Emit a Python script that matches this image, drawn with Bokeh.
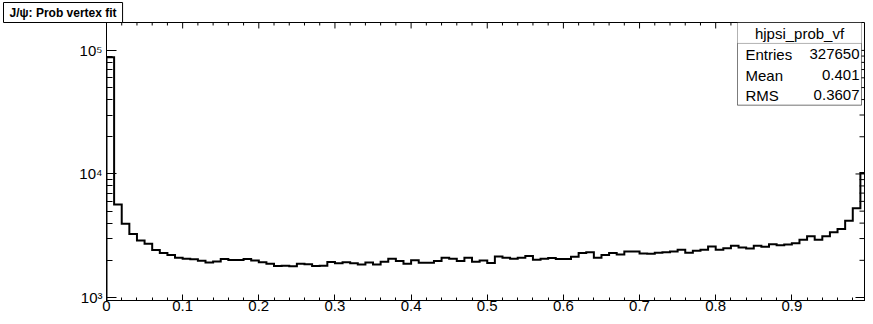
from bokeh.plotting import figure
from bokeh.models import FixedTicker, Label, BoxAnnotation, Range1d
from bokeh.embed import file_html
from bokeh.resources import INLINE

# ---------------- data ----------------
counts = [
    88000, 5650, 3950, 3270, 2890, 2720, 2420, 2290, 2210, 2100,
    2060, 2040, 1980, 1920, 1960, 2050, 2010, 2010, 2050, 1990,
    1930, 1880, 1800, 1810, 1790, 1880, 1860, 1800, 1810, 1940,
    1890, 1930, 1890, 1850, 1920, 1850, 1950, 2060, 1975, 1880,
    2000, 1915, 1915, 1975, 2100, 2060, 1975, 2100, 1950, 1990,
    1905, 2150, 2100, 2060, 2100, 2170, 2025, 2060, 2090, 2050,
    2050, 2140, 2290, 2320, 2100, 2210, 2290, 2230, 2360, 2360,
    2275, 2260, 2300, 2320, 2360, 2435, 2300, 2390, 2435, 2590,
    2435, 2510, 2620, 2540, 2495, 2620, 2570, 2700, 2650, 2690,
    2750, 2930, 3130, 2930, 3130, 3370, 3580, 4180, 5280, 10200,
]
bin_width = 0.01

x_ticks = [0.0, 0.1, 0.2, 0.3, 0.4, 0.5, 0.6, 0.7, 0.8, 0.9]
x_tick_labels = ["0", "0.1", "0.2", "0.3", "0.4", "0.5", "0.6", "0.7", "0.8", "0.9"]
x_minor_ticks = [round(0.02 * i, 2) for i in range(50)]

y_ticks = [1000, 10000, 100000]
y_tick_labels = ["10\u00b3", "10\u2074", "10\u2075"]
y_minor_ticks = [2000, 3000, 4000, 5000, 6000, 7000, 8000, 9000,
                 20000, 30000, 40000, 50000, 60000, 70000, 80000, 90000]

title_text = "J/\u03c8: Prob vertex fit"
stats_name = "hjpsi_prob_vf"
stats_labels = ["Entries", "Mean", "RMS"]
stats_values = ["327650", "0.401", "0.3607"]

# ---------------- layout constants (pixels) ----------------
FONT = "Liberation Sans"
W, H = 865, 316
FL, FT, FB = 106, 21, 300          # frame left / top / bottom
PX_PER_X = 761.5                   # pixels per x unit
Y3_PIX, PX_PER_DEC = 297.0, 124.0  # pixel row of 10^3, pixels per decade

X_MAX = (W - FL) / PX_PER_X
Y_MIN = 10 ** (3 - (FB - Y3_PIX) / PX_PER_DEC)
Y_MAX = 10 ** (3 + (Y3_PIX - FT) / PX_PER_DEC)


def dx(px):
    return (px - FL) / PX_PER_X


def dy(py):
    return 10 ** (3 + (Y3_PIX - py) / PX_PER_DEC)


p = figure(width=W, height=H,
           x_range=Range1d(0, X_MAX), y_range=Range1d(Y_MIN, Y_MAX),
           y_axis_type="log", output_backend="svg", toolbar_location=None,
           min_border_left=FL, min_border_right=0, min_border_top=FT, min_border_bottom=H - FB)
p.xgrid.grid_line_color = None
p.ygrid.grid_line_color = None
p.outline_line_color = "black"
p.outline_line_width = 1
p.background_fill_color = "white"
p.border_fill_color = "white"

# title drawn in a ROOT-like box at the top-left corner
p.title.text = title_text
p.title.align = "left"
p.title.vertical_align = "bottom"
p.title.offset = 3 - FL
p.title.standoff = 0
p.title.text_font = FONT
p.title.text_font_style = "bold"
p.title.text_font_size = "12px"
p.title.text_color = "black"
p.title.background_fill_color = "white"
p.title.border_line_color = "black"
p.title.padding = (6, 3)


def style_axis(ax, major_in, minor_in, standoff):
    ax.axis_line_color = "black"
    ax.major_tick_line_color = "black"
    ax.minor_tick_line_color = "black"
    ax.major_tick_in = major_in
    ax.major_tick_out = 0
    ax.minor_tick_in = minor_in
    ax.minor_tick_out = 0
    ax.major_label_text_font = FONT
    ax.major_label_text_font_size = "15px"
    ax.major_label_text_color = "black"
    ax.major_label_standoff = standoff


xa = p.xaxis[0]
xa.ticker = FixedTicker(ticks=x_ticks, minor_ticks=x_minor_ticks)
xa.major_label_overrides = dict(zip(x_ticks, x_tick_labels))
style_axis(xa, 6, 3, 0)

ya = p.yaxis[0]
ya.ticker = FixedTicker(ticks=y_ticks, minor_ticks=y_minor_ticks)
ya.major_label_overrides = dict(zip(y_ticks, y_tick_labels))
style_axis(ya, 10, 6, 4)

# ticks on the top and right frame edges (same tick positions as the axes)
top_major = [t for t in x_ticks]
top_minor = [t for t in x_minor_ticks if t not in x_ticks]
p.segment(x0=top_major, x1=top_major, y0=[Y_MAX] * len(top_major),
          y1=[Y_MAX / 10 ** (6 / PX_PER_DEC)] * len(top_major), line_color="black", line_width=1)
p.segment(x0=top_minor, x1=top_minor, y0=[Y_MAX] * len(top_minor),
          y1=[Y_MAX / 10 ** (3 / PX_PER_DEC)] * len(top_minor), line_color="black", line_width=1)
p.segment(x0=[X_MAX] * len(y_ticks), x1=[X_MAX - 10 / PX_PER_X] * len(y_ticks),
          y0=y_ticks, y1=y_ticks, line_color="black", line_width=1)
p.segment(x0=[X_MAX] * len(y_minor_ticks), x1=[X_MAX - 6 / PX_PER_X] * len(y_minor_ticks),
          y0=y_minor_ticks, y1=y_minor_ticks, line_color="black", line_width=1)

# ---------------- histogram outline ----------------
edges = [i * bin_width for i in range(len(counts) + 1)]
xs = [edges[0]] + edges
ys = [Y_MIN] + counts + [counts[-1]]
p.step(xs, ys, mode="after", line_color="black", line_width=2, line_join="miter")

# ---------------- stats box ----------------
SB_L, SB_R, SB_T, SB_SEP, SB_B = 737, 861, FT, 42, 104
p.add_layout(BoxAnnotation(left=dx(SB_L), right=dx(SB_R), top=dy(SB_T), bottom=dy(SB_B),
                           fill_color="white", fill_alpha=1.0, line_color="black", line_width=1))
p.add_layout(BoxAnnotation(left=dx(SB_L), right=dx(SB_R), top=dy(SB_SEP), bottom=dy(SB_B),
                           fill_alpha=0.0, line_color="black", line_width=1))
p.add_layout(Label(x=dx((SB_L + SB_R) / 2), y=dy(32), text=stats_name, text_align="center",
                   text_baseline="middle", text_font=FONT, text_font_size="15px", text_color="black"))
row_y = [53, 74, 94]
for lab, val, ry in zip(stats_labels, stats_values, row_y):
    p.add_layout(Label(x=dx(SB_L + 8), y=dy(ry), text=lab, text_align="left", text_baseline="middle",
                       text_font=FONT, text_font_size="15px", text_color="black"))
    p.add_layout(Label(x=dx(SB_R - 2), y=dy(ry), text=val, text_align="right", text_baseline="middle",
                       text_font=FONT, text_font_size="15px", text_color="black"))

open("out.html", "w").write(file_html(p, INLINE))
